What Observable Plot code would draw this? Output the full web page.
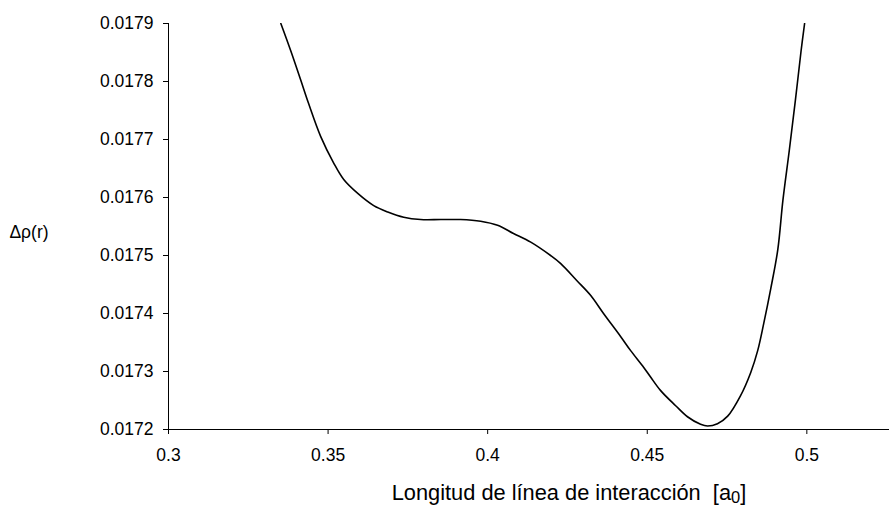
<!DOCTYPE html>
<html>
<head>
<meta charset="utf-8">
<script src="https://cdn.jsdelivr.net/npm/d3@7"></script>
<script src="https://cdn.jsdelivr.net/npm/@observablehq/plot@0.6"></script>
<style>
  html, body { margin: 0; padding: 0; background: #fff; }
  #chart svg { display: block; }
</style>
</head>
<body>
<div id="chart"></div>
<script>
// Interaction line length [a0] and the corresponding Δρ(r)
const lengths = [
  0.3352, 0.3383, 0.3414, 0.3439, 0.3477, 0.3518, 0.3549, 0.3593, 0.3643, 0.3687,
  0.3737, 0.3790, 0.3853, 0.3915, 0.3978, 0.4031, 0.4081, 0.4135, 0.4197, 0.4229,
  0.4279, 0.4323, 0.4363, 0.4417, 0.4448, 0.4489, 0.4511, 0.4542, 0.4589, 0.4626,
  0.4667, 0.4689, 0.4720, 0.4752, 0.4792, 0.4824, 0.4846, 0.4865, 0.4887, 0.4909,
  0.4925, 0.4945, 0.4964, 0.4982, 0.4993
];
const drho = [
  0.017900, 0.017853, 0.017803, 0.017762, 0.017705, 0.017659, 0.017631, 0.017607, 0.017586, 0.017575,
  0.017566, 0.017562, 0.017562, 0.017562, 0.017559, 0.017552, 0.017538, 0.017523, 0.017500, 0.017486,
  0.017457, 0.017431, 0.017400, 0.017360, 0.017336, 0.017307, 0.017290, 0.017267, 0.017241, 0.017222,
  0.017209, 0.017206, 0.017210, 0.017223, 0.017258, 0.017298, 0.017336, 0.017383, 0.017443, 0.017510,
  0.017595, 0.017681, 0.017767, 0.017853, 0.017900
];

// Axis ticks and labels
const xTicks = [0.3, 0.35, 0.4, 0.45, 0.5];
const xTickLabels = ["0.3", "0.35", "0.4", "0.45", "0.5"];
const yTicks = [0.0172, 0.0173, 0.0174, 0.0175, 0.0176, 0.0177, 0.0178, 0.0179];
const yTickLabels = ["0.0172", "0.0173", "0.0174", "0.0175", "0.0176", "0.0177", "0.0178", "0.0179"];

const xTitle = "Longitud de línea de interacción  [a";
const xTitleSub = "0";
const xTitleEnd = "]";
const yTitle = "Δρ(r)";

const points = lengths.map((x, i) => ({x, y: drho[i]}));

const chart = Plot.plot({
  width: 889,
  height: 507,
  marginLeft: 168,
  marginRight: 0,
  marginTop: 23,
  marginBottom: 78,
  x: {domain: [0.3, 0.5259]},
  y: {domain: [0.0172, 0.0179]},
  style: {
    fontFamily: "'Liberation Sans', Arial, sans-serif",
    fontSize: "17.5px",
    color: "#000",
    background: "#fff"
  },
  marks: [
    Plot.axisX(xTicks, {
      tickSize: 5, tickPadding: 14, label: null,
      tickFormat: (d) => xTickLabels[xTicks.indexOf(d)]
    }),
    Plot.axisY(yTicks, {
      tickSize: 5, tickPadding: 10, label: null,
      tickFormat: (d) => yTickLabels[yTicks.indexOf(d)]
    }),
    Plot.ruleX([0.3], {stroke: "#000"}),
    Plot.ruleY([0.0172], {stroke: "#000"}),
    Plot.line(points, {x: "x", y: "y", curve: "catmull-rom", stroke: "#000", strokeWidth: 1.6, clip: true})
  ]
});

const svg = d3.select(chart);

// x axis title with subscript
const t = svg.append("text")
  .attr("x", 569)
  .attr("y", 500)
  .attr("text-anchor", "middle")
  .attr("font-size", "21.8px")
  .attr("fill", "#000")
  .style("white-space", "pre");
t.append("tspan").text(xTitle);
t.append("tspan").attr("font-size", "16.5px").attr("dy", 3).text(xTitleSub);
t.append("tspan").attr("dy", -3).text(xTitleEnd);

// y axis title, horizontal
svg.append("text")
  .attr("x", 29)
  .attr("y", 238)
  .attr("text-anchor", "middle")
  .attr("font-size", "17.5px")
  .attr("fill", "#000")
  .text(yTitle);

document.getElementById("chart").appendChild(chart);
</script>
</body>
</html>
